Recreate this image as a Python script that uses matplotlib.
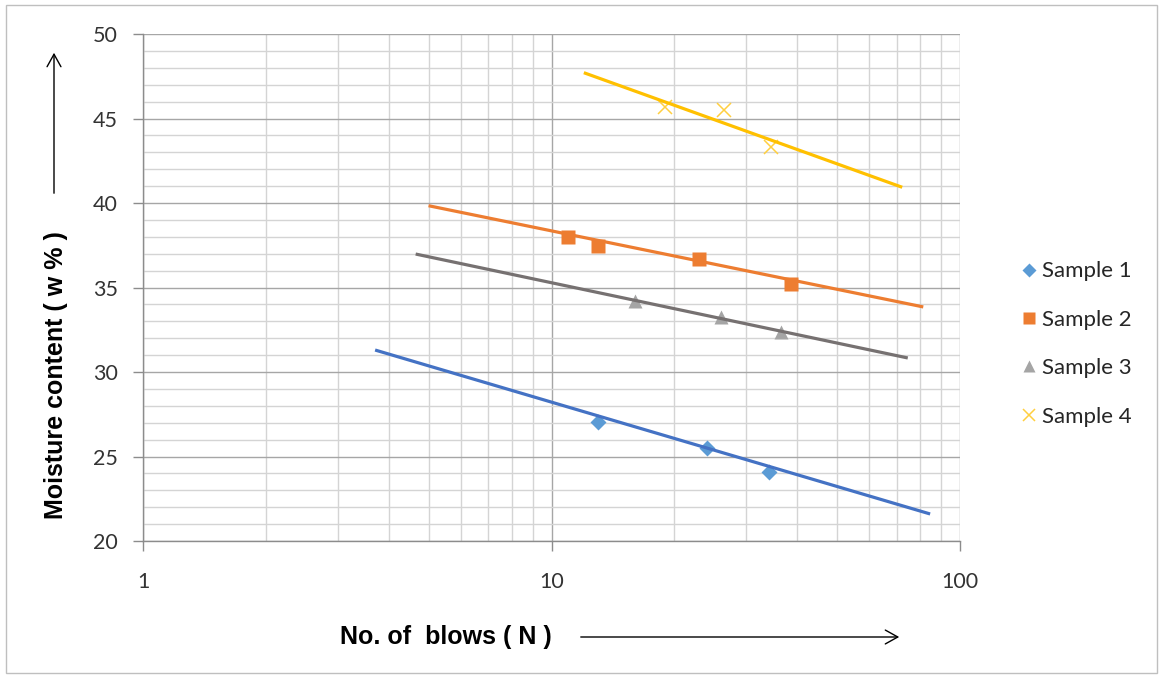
import numpy as np
import matplotlib
matplotlib.use('Agg')
import matplotlib.pyplot as plt
from matplotlib.patches import Rectangle, FancyArrowPatch
from matplotlib.ticker import MultipleLocator, LogLocator, FixedFormatter, FixedLocator

# measured points
n1 = [13, 24, 34]
w1 = [27.05, 25.5, 24.1]
n2 = [11, 13, 23, 38.5]
w2 = [38.0, 37.45, 36.7, 35.2]
n3 = [16, 26, 36.5]
w3 = [34.2, 33.25, 32.35]
n4 = [19, 26.5, 34.5]
w4 = [45.7, 45.5, 43.3]

# log trendlines (end points)
t1_n = [3.7, 84.5]
t1_w = [31.3, 21.6]
t2_n = [5.0, 81.3]
t2_w = [39.84, 33.85]
t3_n = [4.65, 74.5]
t3_w = [36.98, 30.83]
t4_n = [12.0, 72.2]
t4_w = [47.71, 40.93]

labels = ['Sample 1', 'Sample 2', 'Sample 3', 'Sample 4']
xticks = [1, 10, 100]
xtick_labels = ['1', '10', '100']

W, H = 1163, 677
fig = plt.figure(figsize=(W / 100, H / 100), dpi=100)
ax = fig.add_axes([143 / W, 1 - 541 / H, (960 - 143) / W, 507 / H])

ax.plot(n1, w1, 'D', color='#5B9BD5', ms=8.3, mec='none', label=labels[0], zorder=3)
ax.plot(n2, w2, 's', color='#ED7D31', ms=9.6, mec='none', label=labels[1], zorder=3)
ax.plot(n3, w3, '^', color='#A5A5A5', ms=10, mec='none', label=labels[2], zorder=3)
ax.plot(n4, w4, 'x', color='#FFCF40', ms=10.5, mew=1.1, label=labels[3], zorder=3)

ax.plot(t1_n, t1_w, color='#4472C4', lw=2.3, solid_capstyle='butt', zorder=4)
ax.plot(t2_n, t2_w, color='#ED7D31', lw=2.3, solid_capstyle='butt', zorder=4)
ax.plot(t3_n, t3_w, color='#767171', lw=2.3, solid_capstyle='butt', zorder=4)
ax.plot(t4_n, t4_w, color='#FFC000', lw=2.3, solid_capstyle='butt', zorder=4)

ax.set_xscale('log')
ax.set_xlim(1, 100)
ax.set_ylim(20, 50)
ax.xaxis.set_major_locator(FixedLocator(xticks))
ax.xaxis.set_major_formatter(FixedFormatter(xtick_labels))
ax.xaxis.set_minor_locator(LogLocator(base=10, subs=np.arange(2, 10)))
ax.xaxis.set_minor_formatter(plt.NullFormatter())
ax.yaxis.set_major_locator(MultipleLocator(5))
ax.yaxis.set_minor_locator(MultipleLocator(1))

ax.grid(which='major', color='#a6a6a6', lw=1.0, zorder=0)
ax.grid(which='minor', color='#d4d4d4', lw=1.0, zorder=0)
ax.set_axisbelow(True)

for s in ['top', 'right']:
    ax.spines[s].set_visible(False)
for s in ['left', 'bottom']:
    ax.spines[s].set_color('#8c8c8c')
    ax.spines[s].set_linewidth(1.0)

ax.tick_params(which='major', direction='out', length=7, width=1.0, color='#8c8c8c',
               labelsize=15.5, labelcolor='#333333')
ax.tick_params(axis='y', which='major', pad=11)
ax.tick_params(axis='x', which='major', pad=15)
ax.tick_params(which='minor', length=0)
for lab in ax.get_xticklabels() + ax.get_yticklabels():
    lab.set_family('Lato')

leg = ax.legend(loc='center left', bbox_to_anchor=(1011 / W, 1 - 344 / H),
                bbox_transform=fig.transFigure, frameon=False,
                prop={'family': 'Lato', 'size': 16}, handlelength=0.8,
                handletextpad=0.2, labelspacing=1.28, borderaxespad=0,
                markerscale=0.85)
for t in leg.get_texts():
    t.set_color('#262626')

# axis titles with arrows
fig.text(56 / W, 1 - 375 / H, 'Moisture content ( w % )', rotation=90,
         ha='center', va='center', fontsize=18, fontweight='bold',
         family='Liberation Sans', color='black')
fig.text(446 / W, 1 - 637 / H, 'No. of  blows ( N )', ha='center', va='center',
         fontsize=18, fontweight='bold', family='Liberation Sans', color='black')

up = FancyArrowPatch((54 / W, 1 - 196 / H), (54 / W, 1 - 50 / H),
                     transform=fig.transFigure, arrowstyle='->,head_length=9,head_width=5',
                     lw=1.0, color='black', mutation_scale=1)
right = FancyArrowPatch((578 / W, 1 - 637 / H), (902 / W, 1 - 637 / H),
                        transform=fig.transFigure, arrowstyle='->,head_length=9,head_width=5',
                        lw=1.0, color='black', mutation_scale=1)
fig.patches.extend([up, right])

fig.patches.append(Rectangle((6 / W, 1 - 673 / H), 1151 / W, 668 / H,
                             transform=fig.transFigure, fill=False,
                             edgecolor='#bfbfbf', lw=1.0))

fig.savefig('out.png', dpi=100)
